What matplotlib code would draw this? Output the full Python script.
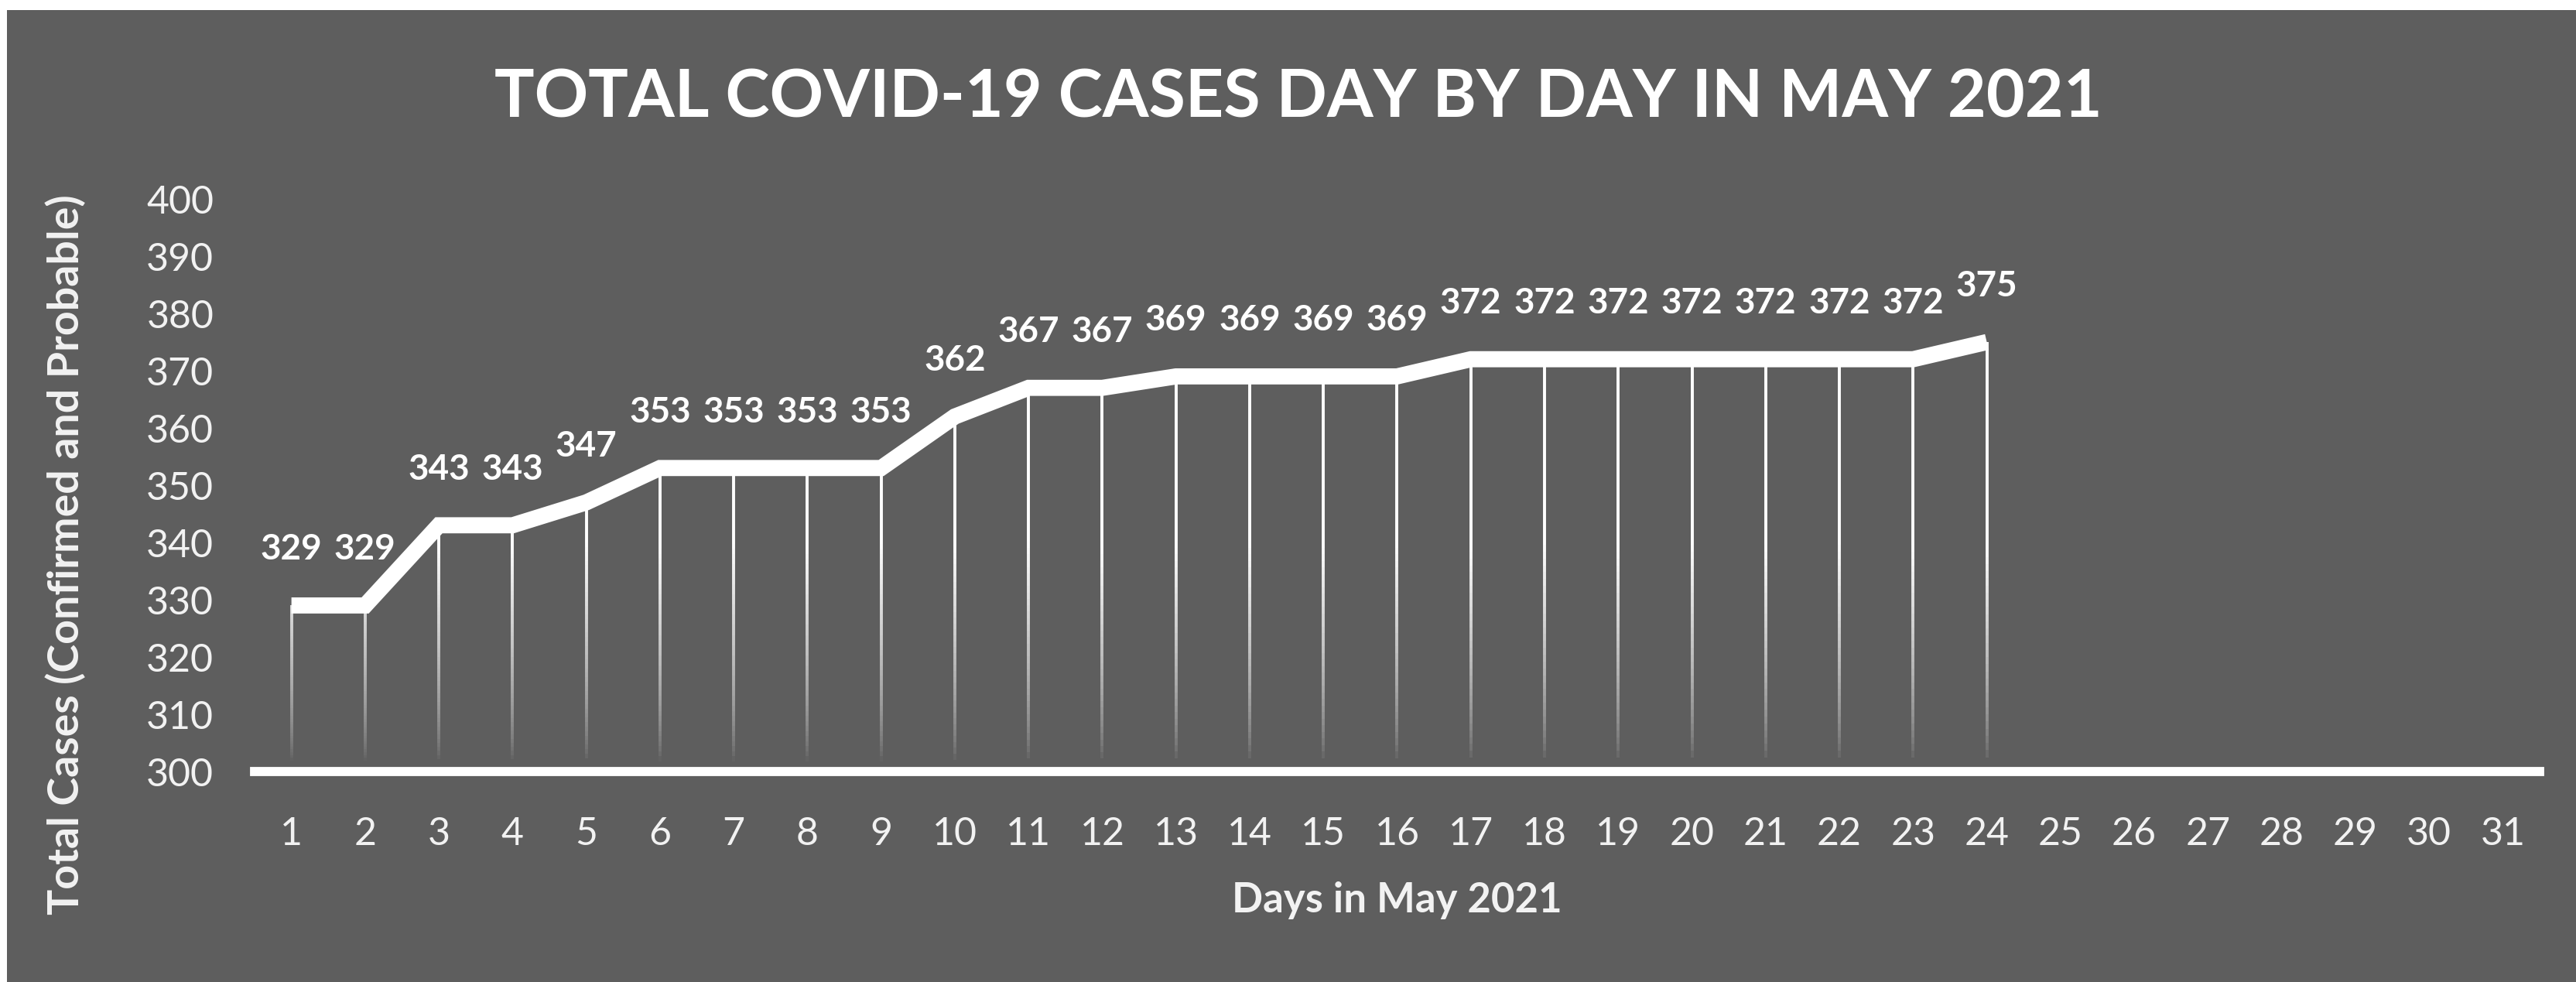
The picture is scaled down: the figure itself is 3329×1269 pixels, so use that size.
import numpy as np
import matplotlib
matplotlib.use("Agg")
import matplotlib.pyplot as plt
from matplotlib.collections import LineCollection
from matplotlib.patches import Rectangle

# ---- data ----
days = list(range(1, 32))
day_labels = [str(d) for d in days]
case_days = list(range(1, 25))
total_cases = [329, 329, 343, 343, 347, 353, 353, 353, 353, 362, 367, 367,
               369, 369, 369, 369, 372, 372, 372, 372, 372, 372, 372, 375]
y_ticks = [300, 310, 320, 330, 340, 350, 360, 370, 380, 390, 400]

title = "TOTAL COVID-19 CASES DAY BY DAY IN MAY 2021"
xlabel = "Days in May 2021"
ylabel = "Total Cases (Confirmed and Probable)"

BG = "#5e5e5e"
FONT = ["Lato", "DejaVu Sans"]

plt.rcParams["font.family"] = FONT

W, H = 3330, 1269
fig = plt.figure(figsize=(W / 100, H / 100), dpi=100, facecolor=BG)

# white strips at top and left edge (screenshot frame)
fig.patches.append(Rectangle((0, 1 - 13 / H), 1, 13 / H, transform=fig.transFigure,
                             facecolor="white", edgecolor="none", zorder=0))
fig.patches.append(Rectangle((0, 0), 9 / W, 1, transform=fig.transFigure,
                             facecolor="white", edgecolor="none", zorder=0))

left, right = 329 / W, 3282 / W
bottom, top = 1 - 997 / H, 1 - 257 / H
ax = fig.add_axes([left, bottom, right - left, top - bottom])
ax.set_facecolor(BG)

ax.set_xlim(0.5, 31.5)
ax.set_ylim(300, 400)

# drop lines with fading gradient toward the bottom
segs, cols = [], []
n = 60
for d, v in zip(case_days, total_cases):
    ys = np.linspace(300, v, n + 1)
    for i in range(n):
        y0, y1 = ys[i], ys[i + 1]
        segs.append([(d, y0), (d, y1)])
        ym = 0.5 * (y0 + y1)
        a = np.clip((ym - 302) / 38.0, 0, 1) ** 0.7
        cols.append((1, 1, 1, a))
ax.add_collection(LineCollection(segs, colors=cols, linewidths=2.8, zorder=2,
                                 capstyle="butt"))

# main line
ax.plot(case_days, total_cases, color="white", lw=15, solid_joinstyle="miter",
        solid_capstyle="butt", zorder=3)

# data labels
for d, v in zip(case_days, total_cases):
    ax.annotate(str(v), (d, v), xytext=(0, 52), textcoords="offset points",
                ha="center", va="center", fontsize=33, fontweight="bold",
                color="white", zorder=4)

# axes styling
for s in ["top", "right", "left"]:
    ax.spines[s].set_visible(False)
ax.spines["bottom"].set_color("white")
ax.spines["bottom"].set_linewidth(8.5)
ax.spines["bottom"].set_zorder(5)

ax.set_xticks(days)
ax.set_xticklabels(day_labels)
ax.set_yticks(y_ticks)
ax.set_yticklabels([str(t) for t in y_ticks])
ax.tick_params(axis="both", length=0, labelsize=36, labelcolor="#f2f2f2")
ax.tick_params(axis="x", pad=42)
ax.tick_params(axis="y", pad=38)

fig.text(1678 / W, 1 - 127 / H, title, ha="center", va="center",
         fontsize=62, fontweight="bold", color="white")
fig.text(1805 / W, 1 - 1163 / H, xlabel, ha="center", va="center",
         fontsize=38, fontweight="bold", color="#f2f2f2")
fig.text(85 / W, 1 - 717 / H, ylabel, ha="center", va="center", rotation=90,
         fontsize=40, fontweight="bold", color="#f2f2f2")

fig.savefig("out.png", dpi=100, facecolor=BG)
